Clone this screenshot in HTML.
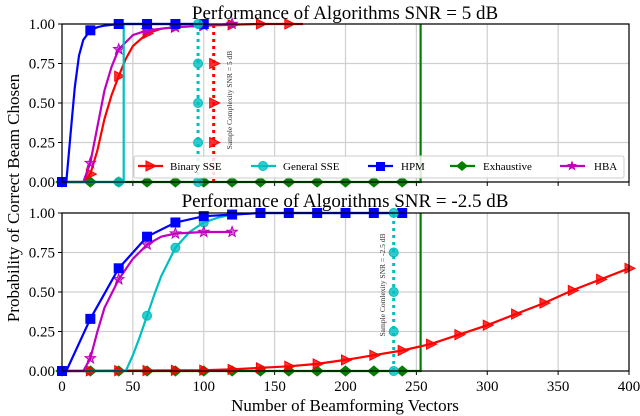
<!DOCTYPE html>
<html><head><meta charset="utf-8"><style>
body{margin:0;background:#fff}
svg{display:block;font-family:"Liberation Serif",serif}
</style></head><body>
<svg id="c" width="640" height="416" viewBox="0 0 640 416"></svg>
<script>
// ---- data ----
const xTicks=[0,50,100,150,200,250,300,350,400];
const yTicks=[0,0.25,0.5,0.75,1];
const yTickLabels=["0.00","0.25","0.50","0.75","1.00"];
// top panel (SNR = 5 dB)
const topHpmX=[0,3,6,9,12,15,20,25,30,40,60,80,100];
const topHpmY=[0,0,0.3,0.6,0.8,0.9,0.96,0.98,0.99,1,1,1,1];
const topHpmMk=[0,20,40,60,80,100];
const topBinX=[0,15,20,25,30,35,40,45,50,60,70,80,100,120,140,160,170];
const topBinY=[0,0,0.05,0.2,0.4,0.55,0.67,0.78,0.86,0.94,0.97,0.98,0.99,0.995,1,1,1];
const topBinMk=[20,40,60,80,100,120,140,160];
const topHbaX=[0,15,20,25,30,35,40,50,60,80,100,120];
const topHbaY=[0,0,0.12,0.35,0.58,0.73,0.84,0.93,0.96,0.98,0.99,1];
const topHbaMk=[20,40,60,80,100,120];
const topGenX=[0,43.5,43.5,100];
const topGenY=[0,0,1,1];
const topGenMk=[0,40];
const topExhX=[0,253,253];
const topExhY=[0,0,1];
const topExhMk=[0,20,40,60,80,100,120,140,160,180,200,220,240];
const topGenDotX=96, topBinDotX=107;
// bottom panel (SNR = -2.5 dB)
const botHpmX=[0,3,20,40,60,80,100,120,140,160,180,200,220,240];
const botHpmY=[0,0,0.33,0.65,0.85,0.94,0.98,0.99,1,1,1,1,1,1];
const botHbaX=[0,15,20,25,30,40,50,60,70,80,100,120];
const botHbaY=[0,0,0.08,0.25,0.4,0.58,0.71,0.8,0.85,0.87,0.88,0.88];
const botHbaMk=[20,40,60,80,100,120];
const botGenX=[0,45,50,55,60,65,70,80,90,100,110,120,140,160,180,200,220,235];
const botGenY=[0,0,0.1,0.22,0.35,0.48,0.6,0.78,0.88,0.94,0.97,0.99,1,1,1,1,1,1];
const botGenMk=[60,80,100,120,140];
const botBinX=[0,100,120,140,160,180,200,220,240,260,280,300,320,340,360,380,400];
const botBinY=[0,0.005,0.01,0.02,0.03,0.045,0.07,0.1,0.13,0.17,0.23,0.29,0.36,0.43,0.51,0.58,0.65];
const botExhX=[0,253,253];
const botExhY=[0,0,1];
const botGenDotX=234;

// ---- layout ----
const L=62,R=629;
const panels=[{top:24,bot:182},{top:213,bot:371}];
const sx=v=>L+v*(R-L)/400;
const NS="http://www.w3.org/2000/svg";
const svg=document.getElementById('c');
function mk(tag,attrs,parent){const e=document.createElementNS(NS,tag);for(const k in attrs)e.setAttribute(k,attrs[k]);(parent||svg).appendChild(e);return e;}
function interp(xs,ys,x){for(let i=1;i<xs.length;i++){if(x<=xs[i]){const d=xs[i]-xs[i-1];return d===0?ys[i]:ys[i-1]+(ys[i]-ys[i-1])*(x-xs[i-1])/d;}}return ys[ys.length-1];}
function marker(type,x,y,color,g){
  let e;
  if(type==='tri'){e=mk('polygon',{points:`${x-4},${y-5} ${x+6},${y} ${x-4},${y+5}`,fill:color,'fill-opacity':0.8,stroke:color},g);}
  else if(type==='circ'){e=mk('circle',{cx:x,cy:y,r:4.5,fill:color,'fill-opacity':0.8,stroke:color},g);}
  else if(type==='sq'){e=mk('rect',{x:x-4.5,y:y-4.5,width:9,height:9,fill:color,stroke:color},g);}
  else if(type==='dia'){e=mk('polygon',{points:`${x},${y-5} ${x+6},${y} ${x},${y+5} ${x-6},${y}`,fill:color,stroke:color},g);}
  else {let p=[];for(let i=0;i<10;i++){const r=i%2?2.3:5.5,a=-Math.PI/2+i*Math.PI/5;p.push((x+r*Math.cos(a)).toFixed(1)+','+(y+r*Math.sin(a)).toFixed(1));}e=mk('polygon',{points:p.join(' '),fill:color,'fill-opacity':0.6,stroke:color},g);}
  
  
}
function series(p,name,xs,ys,mks,type,color,dash){
  const sy=v=>p.bot-v*(p.bot-p.top);
  const g=mk('g',{});
  
  
  const d=xs.map((x,i)=>(i?'L':'M')+sx(x).toFixed(1)+','+sy(ys[i]).toFixed(1)).join('');
  const a={d:d,fill:'none',stroke:color,'stroke-width':2.2};
  if(dash)a['stroke-dasharray']=dash;
  mk('path',a,g);
  (mks||[]).forEach(x=>marker(type,sx(x),sy(interp(xs,ys,x)),color,g));
}
function dotted(p,name,x,color,mkYs){
  const sy=v=>p.bot-v*(p.bot-p.top);
  const g=mk('g',{});
  
  
  mk('line',{x1:sx(x),x2:sx(x),y1:sy(0),y2:sy(1),stroke:color,'stroke-width':3,'stroke-dasharray':'3,4'},g);
  mkYs.forEach(v=>marker(color==='#00bfbf'?'circ':'tri',sx(x),sy(v),color,g));
}

panels.forEach((p,pi)=>{
  const sy=v=>p.bot-v*(p.bot-p.top);
  const grid=mk('g',{});
  
  
  xTicks.forEach(t=>mk('line',{x1:sx(t),x2:sx(t),y1:p.top,y2:p.bot,stroke:'#cfcfcf','stroke-width':1.2},grid));
  yTicks.forEach(t=>mk('line',{x1:L,x2:R,y1:sy(t),y2:sy(t),stroke:'#cfcfcf','stroke-width':1.2},grid));
  const ax=mk('g',{});
  
  
  xTicks.forEach(t=>{mk('line',{x1:sx(t),x2:sx(t),y1:p.bot,y2:p.bot+4,stroke:'#000'},ax);
    if(pi===1){const tx=mk('text',{x:sx(t),y:p.bot+20,'text-anchor':'middle','font-size':15},ax);tx.textContent=t;}});
  yTicks.forEach((t,i)=>{mk('line',{x1:L-4,x2:L,y1:sy(t),y2:sy(t),stroke:'#000'},ax);
    const tx=mk('text',{x:L-7,y:sy(t)+5,'text-anchor':'end','font-size':15},ax);tx.textContent=yTickLabels[i];});
});

const P0=panels[0],P1=panels[1];
series(P0,'series-exhaustive-top',topExhX,topExhY,topExhMk,'dia','#008000');
series(P0,'series-binary-sse-top',topBinX,topBinY,topBinMk,'tri','#ff0000');
series(P0,'series-hba-top',topHbaX,topHbaY,topHbaMk,'star','#bf00bf');
series(P0,'series-general-sse-top',topGenX,topGenY,topGenMk,'circ','#00bfbf');
series(P0,'series-hpm-top',topHpmX,topHpmY,topHpmMk,'sq','#0000ff');
dotted(P0,'sample-complexity-general-top',topGenDotX,'#00bfbf',[0,0.25,0.5,0.75,1]);
dotted(P0,'sample-complexity-binary-top',topBinDotX,'#ff0000',[0.25,0.5,0.75]);
series(P1,'series-exhaustive-bottom',botExhX,botExhY,topExhMk,'dia','#008000');
series(P1,'series-binary-sse-bottom',botBinX,botBinY,[20,40,60,80,100,120,140,160,180,200,220,240,260,280,300,320,340,360,380,400],'tri','#ff0000');
series(P1,'series-general-sse-bottom',botGenX,botGenY,botGenMk,'circ','#00bfbf');
series(P1,'series-hba-bottom',botHbaX,botHbaY,botHbaMk,'star','#bf00bf');
series(P1,'series-hpm-bottom',botHpmX,botHpmY,[0,20,40,60,80,100,120,140,160,180,200,220,240],'sq','#0000ff');
dotted(P1,'sample-complexity-general-bottom',botGenDotX,'#00bfbf',[0,0.25,0.5,0.75,1]);

panels.forEach((p,pi)=>{const f=mk('rect',{x:L,y:p.top,width:R-L,height:p.bot-p.top,fill:'none',stroke:'#000','stroke-width':1.2});
  
  });
</script>
<svg width="640" height="416" style="position:absolute;left:0;top:0;font-family:'Liberation Serif',serif">
  <text x="232" y="100" font-size="7.5" fill="#333" text-anchor="middle" transform="rotate(-90 232 100)">Sample Complexity SNR = 5 dB</text>
  <text x="385" y="285" font-size="7.5" fill="#333" text-anchor="middle" transform="rotate(-90 385 285)">Sample Comlexity SNR = -2.5 dB</text>
  <text x="345" y="19" font-size="19" text-anchor="middle">Performance of Algorithms SNR = 5 dB</text>
  <text x="345" y="207" font-size="19" text-anchor="middle">Performance of Algorithms SNR = -2.5 dB</text>
  <text x="345" y="411" font-size="17" text-anchor="middle">Number of Beamforming Vectors</text>
  <text x="19" y="198" font-size="17" text-anchor="middle" transform="rotate(-90 19 198)">Probability of Correct Beam Chosen</text>
  <g>
    <rect x="134" y="156" width="490" height="22" rx="2" fill="#fff" fill-opacity="0.85" stroke="#ccc"/>
    <g>
      <line x1="138" x2="163" y1="166" y2="166" stroke="#f00" stroke-width="2.2"/><polygon points="146,161 156,166 146,171" fill="#f00" fill-opacity="0.8" stroke="#f00"/>
      <text x="170" y="170" font-size="11">Binary SSE</text></g>
    <g>
      <line x1="251" x2="276" y1="166" y2="166" stroke="#00bfbf" stroke-width="2.2"/><circle cx="263" cy="166" r="4.5" fill="#00bfbf" fill-opacity="0.8" stroke="#00bfbf"/>
      <text x="283" y="170" font-size="11">General SSE</text></g>
    <g>
      <line x1="368" x2="393" y1="166" y2="166" stroke="#00f" stroke-width="2.2"/><rect x="376" y="162" width="9" height="9" fill="#00f"/>
      <text x="401" y="170" font-size="11">HPM</text></g>
    <g>
      <line x1="450" x2="475" y1="166" y2="166" stroke="#008000" stroke-width="2.2"/><polygon points="462,161 468,166 462,171 456,166" fill="#008000"/>
      <text x="483" y="170" font-size="11">Exhaustive</text></g>
    <g>
      <line x1="560" x2="585" y1="166" y2="166" stroke="#bf00bf" stroke-width="2.2"/><polygon points="572,160.5 573.4,164 577,164 574.3,166.5 575.5,170.5 572,168.3 568.5,170.5 569.7,166.5 567,164 570.6,164" fill="#bf00bf"/>
      <text x="594" y="170" font-size="11">HBA</text></g>
  </g>
</svg>
</body></html>
